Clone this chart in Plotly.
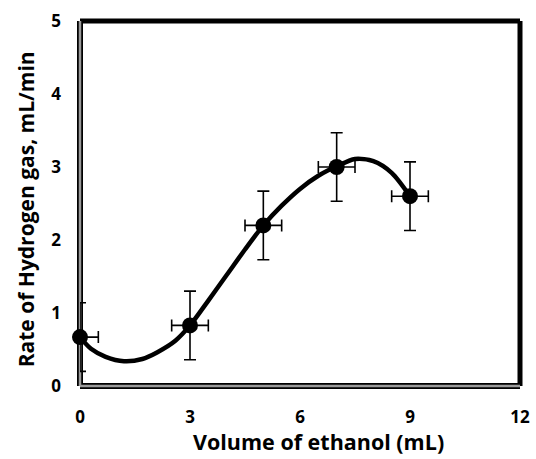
import plotly.graph_objects as go

# Measured data points
volume = [0, 3, 5, 7, 9]
rate = [0.67, 0.83, 2.2, 3.0, 2.6]
rate_err = [0.47, 0.47, 0.47, 0.47, 0.47]
volume_err = [0.5, 0.5, 0.5, 0.5, 0.5]

# Trend curve
curve_x = [0, 0.3, 0.7, 1.2, 1.7, 2.1, 2.6, 3, 3.5, 4, 4.5, 5, 5.5, 6, 6.5, 7, 7.5, 8, 8.5, 9]
curve_y = [0.67, 0.51, 0.40, 0.34, 0.37, 0.46, 0.62, 0.83, 1.17, 1.52, 1.87, 2.2, 2.47, 2.70, 2.88, 3.01, 3.11, 3.08, 2.92, 2.6]

x_ticks = [0, 3, 6, 9, 12]
y_ticks = [0, 1, 2, 3, 4, 5]

FONT = "Open Sans"

fig = go.Figure()
fig.add_trace(go.Scatter(
    x=curve_x, y=curve_y, mode="lines",
    line=dict(color="black", width=4.5, shape="spline", smoothing=0.8),
    showlegend=False, hoverinfo="skip"))
fig.add_trace(go.Scatter(
    x=volume, y=rate, mode="markers",
    marker=dict(color="black", size=16),
    error_y=dict(type="data", array=rate_err, color="black", thickness=1.6, width=6),
    error_x=dict(type="data", array=volume_err, color="black", thickness=1.6, width=6),
    cliponaxis=False, showlegend=False))

fig.update_layout(
    width=536, height=459,
    margin=dict(l=80, r=16, t=21, b=73),
    paper_bgcolor="white", plot_bgcolor="white",
    font=dict(family=FONT, color="black"),
)
fig.update_xaxes(range=[0, 12], tickvals=x_ticks, showgrid=False, zeroline=False,
                 showline=False, ticks="", ticklabelstandoff=19, automargin=False,
                 tickfont=dict(family=FONT, size=17, weight="bold", color="black"))
fig.update_yaxes(range=[0, 5], tickvals=y_ticks, showgrid=False, zeroline=False,
                 showline=False, ticks="", ticklabelstandoff=18, automargin=False,
                 tickfont=dict(family=FONT, size=17, weight="bold", color="black"))

# Frame: black top/right, grey-with-black-edge left/bottom
shape_common = dict(xref="paper", yref="paper", layer="below")
fig.add_shape(type="line", x0=0, x1=1, y0=1, y1=1, line=dict(color="black", width=5), **shape_common)
fig.add_shape(type="line", x0=1, x1=1, y0=0, y1=1, line=dict(color="black", width=5), **shape_common)
fig.add_shape(type="line", x0=0, x1=0, y0=0, y1=1, line=dict(color="black", width=6), **shape_common)
fig.add_shape(type="line", x0=0, x1=1, y0=0, y1=0, line=dict(color="black", width=6), **shape_common)
fig.add_shape(type="line", x0=0, x1=0, y0=0, y1=1, line=dict(color="#9a9a9a", width=2.5), **shape_common)
fig.add_shape(type="line", x0=0, x1=1, y0=0, y1=0, line=dict(color="#9a9a9a", width=2.5), **shape_common)

fig.add_annotation(text="Volume of ethanol (mL)", xref="paper", yref="paper",
                   x=0.543, y=-0.151, xanchor="center", yanchor="middle", showarrow=False,
                   font=dict(family=FONT, size=21.5, weight="bold", color="black"))
fig.add_annotation(text="Rate of Hydrogen gas, mL/min", xref="paper", yref="paper",
                   x=-0.122, y=0.485, xanchor="center", yanchor="middle", showarrow=False,
                   textangle=-90,
                   font=dict(family=FONT, size=21, weight="bold", color="black"))

fig.write_html("out.html", config={"displayModeBar": False},
               post_script="document.body.style.margin='0';document.body.style.overflow='hidden';")
